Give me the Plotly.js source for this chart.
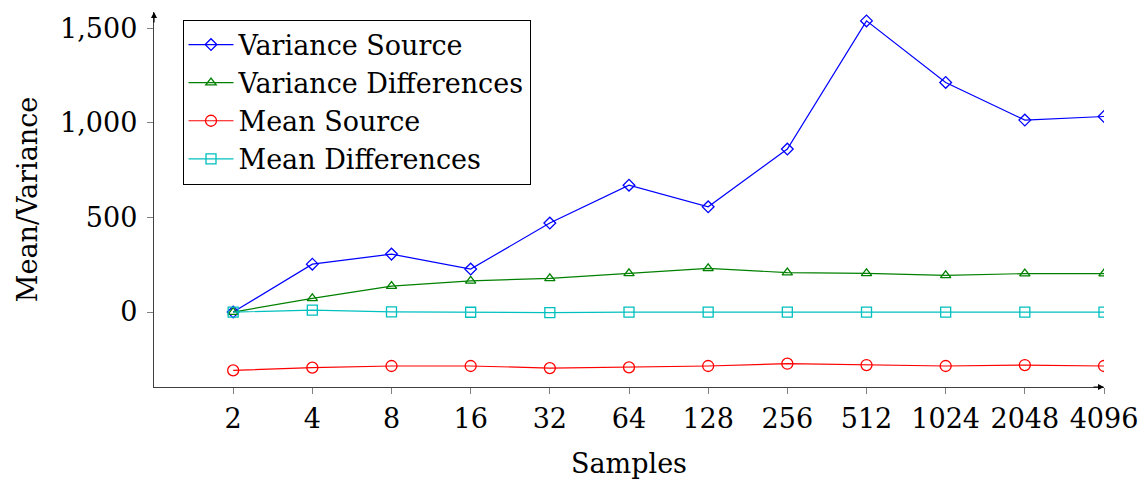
<!DOCTYPE html>
<html><head><meta charset="utf-8">
<script src="https://cdn.plot.ly/plotly-3.0.1.min.js"></script>
<style>body{margin:0}#c{width:1145px;height:480px}</style>
</head><body><div id="c"></div>
<script>
const samples = ["2","4","8","16","32","64","128","256","512","1024","2048","4096"];
const varianceSource = [0,253,306,227,470,670,556,861,1538,1213,1014,1033];
const varianceDiff = [0,72,137,165,178,204,231,208,204,194,203,203];
const meanSource = [-308,-294,-285,-285,-296,-292,-285,-273,-280,-285,-280,-285];
const meanDiff = [0,10,1,-1,-3,0,0,0,0,0,0,0];
const yTicks = [0,500,1000,1500];

const F = "DejaVu Serif, Liberation Serif, serif";
const xi = samples.map((s,i)=>i);
function tr(name, y, color, sym, size){
  return {x: xi, y: y, name: name, type:'scatter', mode:'lines+markers',
    line:{color:color, width:1.2},
    marker:{symbol:sym, size:size, color:color, line:{color:color, width:1.3}}};
}
const data = [
  tr("Variance Source", varianceSource, "#0000ff", "diamond-open", 9),
  tr("Variance Differences", varianceDiff, "#008000", "triangle-up-open", 9),
  tr("Mean Source", meanSource, "#ff0000", "circle-open", 11),
  tr("Mean Differences", meanDiff, "#00bfbf", "square-open", 10)
];
const layout = {
  width:1145, height:480,
  margin:{l:154, r:41, t:12, b:93},
  paper_bgcolor:'#fff', plot_bgcolor:'#fff',
  font:{family:F, size:27, color:'#000'},
  showlegend:true,
  legend:{x:0.03, y:0.98, xanchor:'left', yanchor:'top', bordercolor:'#000', borderwidth:1,
    bgcolor:'#fff', font:{family:F, size:27}, tracegroupgap:0, itemwidth:45},
  xaxis:{range:[-1,11], tickvals:xi, ticktext:samples, showgrid:false, zeroline:false,
    showline:true, linecolor:'#404040', linewidth:1.2, ticks:'outside', ticklen:6, tickcolor:'#808080',
    ticklabelstandoff:1,
    title:{text:'Samples', font:{family:F, size:27}, standoff:21}},
  yaxis:{range:[-396,1585], tickvals:yTicks, tickformat:',', showgrid:false, zeroline:false,
    showline:true, linecolor:'#404040', linewidth:1.2, ticks:'outside', ticklen:6, tickcolor:'#808080',
    ticklabelstandoff:4,
    title:{text:'Mean/Variance', font:{family:F, size:27}, standoff:14}},
  annotations:[
    {xref:'paper', yref:'paper', x:0, y:1, ax:0, ay:12, showarrow:true, arrowhead:2, arrowsize:1, arrowwidth:1.2, arrowcolor:'#000', text:''},
    {xref:'paper', yref:'paper', x:1, y:0, ax:-12, ay:0, showarrow:true, arrowhead:2, arrowsize:1, arrowwidth:1.2, arrowcolor:'#000', text:''}
  ]
};
Plotly.newPlot('c', data, layout, {displayModeBar:false, staticPlot:true});
</script></body></html>
